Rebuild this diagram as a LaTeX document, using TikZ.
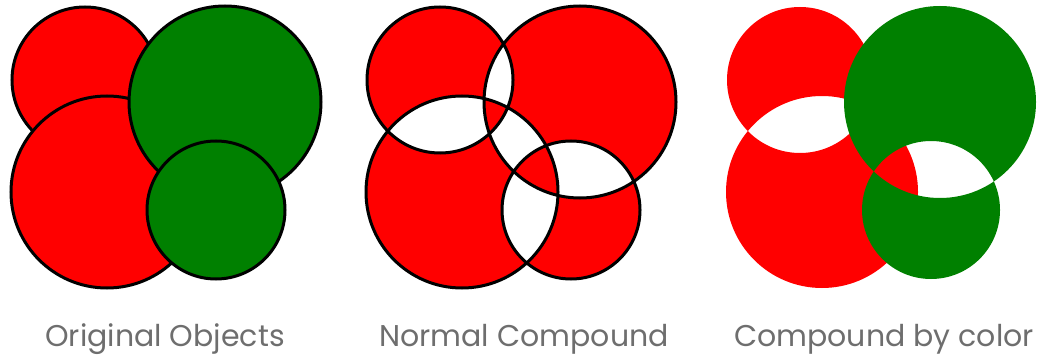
\documentclass[tikz,border=0pt]{standalone}
\usepackage{fontspec}
\setmainfont{Poppins}
\usepackage{xcolor}
\usepackage{tikz}
\usetikzlibrary{positioning, calc}

\definecolor{objred}{HTML}{FF0000}
\definecolor{objgreen}{HTML}{008000}
\definecolor{captiongray}{HTML}{6E6E6E}

\tikzset{
  outline/.style={draw=black, line width=3pt},
  caption/.style={text=captiongray, font=\fontsize{30}{33}\selectfont, inner sep=0pt, anchor=base}
}

\begin{document}
\begin{tikzpicture}[x=1pt, y=-1pt]
  \useasboundingbox (0,0) rectangle (1040,358);

  % Panel 1: original objects, drawn one over another
  \begin{scope}
    \coordinate (TL) at (85,80);
    \coordinate (BL) at (107,192);
    \coordinate (BG) at (225,102);
    \coordinate (SG) at (216,210);
    \filldraw[objred, outline] (TL) circle[radius=73pt];
    \filldraw[objred, outline] (BL) circle[radius=96pt];
    \filldraw[objgreen, outline] (BG) circle[radius=96pt];
    \filldraw[objgreen, outline] (SG) circle[radius=69pt];
  \end{scope}

  % Panel 2: one compound path, even-odd
  \begin{scope}[xshift=355pt]
    \coordinate (TL) at (85,80);
    \coordinate (BL) at (107,192);
    \coordinate (BG) at (225,102);
    \coordinate (SG) at (216,210);
    \fill[objred, even odd rule] (TL) circle[radius=73pt] (BL) circle[radius=96pt]
      (BG) circle[radius=96pt] (SG) circle[radius=69pt];
    \draw[outline] (TL) circle[radius=73pt] (BL) circle[radius=96pt]
      (BG) circle[radius=96pt] (SG) circle[radius=69pt];
  \end{scope}

  % Panel 3: one compound per colour, no outline
  \begin{scope}[xshift=715pt]
    \coordinate (TL) at (85,80);
    \coordinate (BL) at (107,192);
    \coordinate (BG) at (225,102);
    \coordinate (SG) at (216,210);
    \fill[objred, even odd rule] (TL) circle[radius=73pt] (BL) circle[radius=96pt];
    \fill[objgreen, even odd rule] (BG) circle[radius=96pt] (SG) circle[radius=69pt];
  \end{scope}

  % Captions
  \node[caption] (capA) at (165,346) {Original Objects};
  \node[caption] (capB) at (524,346) {Normal Compound};
  \node[caption] (capC) at (884,346) {Compound by color};
\end{tikzpicture}
\end{document}
